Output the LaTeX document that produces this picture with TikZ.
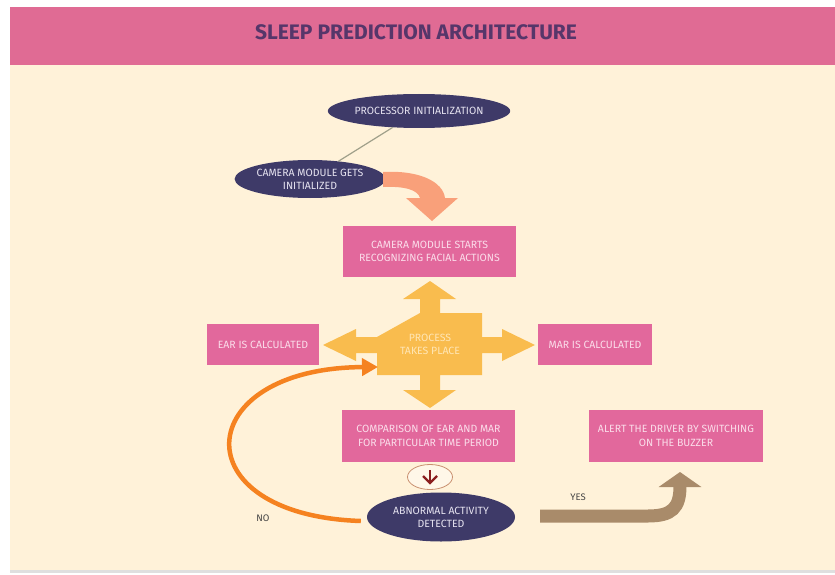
\documentclass[tikz,border=0pt]{standalone}
\usepackage{fontspec}
\setmainfont{Fira Sans}
\usetikzlibrary{shapes.geometric,arrows.meta,calc}
\definecolor{hdr}{HTML}{E06B94}
\definecolor{cream}{HTML}{FFF2D9}
\definecolor{boxpink}{HTML}{E2689C}
\definecolor{boxtext}{HTML}{FBDDEA}
\definecolor{navy}{HTML}{3E3A68}
\definecolor{elltext}{HTML}{E6E3F0}
\definecolor{procy}{HTML}{F9BC4E}
\definecolor{proctext}{HTML}{FFE6B5}
\definecolor{titlec}{HTML}{56366A}
\definecolor{salmon}{HTML}{F9A07A}
\definecolor{orangec}{HTML}{F58220}
\definecolor{brownc}{HTML}{A98B6A}
\definecolor{linec}{HTML}{A0A08A}
\definecolor{dred}{HTML}{8B1E1E}
\definecolor{smline}{HTML}{C99070}
\definecolor{labc}{HTML}{444444}
\tikzset{
  ell/.style={ellipse, fill=navy, text=elltext, inner sep=0pt, align=center, font=\fontsize{10.5}{13}\selectfont},
  box/.style={rectangle, fill=boxpink, text=boxtext, inner sep=0pt, align=center, font=\fontsize{10.5}{13.5}\selectfont},
  lab/.style={text=labc, font=\fontsize{9.5}{11}\selectfont}
}
\begin{document}
\begin{tikzpicture}[x=1pt,y=-1pt]
\useasboundingbox (0,0) rectangle (835,575);
\fill[white] (0,0) rectangle (835,575);
\fill[cream] (10,65) rectangle (835,570);
\fill[hdr] (10,7) rectangle (835,65);
\fill[gray!25] (10,570) rectangle (835,573);
\node[text=titlec, font=\fontsize{21}{24}\selectfont\bfseries] (title) at (416,32) {SLEEP PREDICTION ARCHITECTURE};

% nodes
\node[ell, minimum width=168, minimum height=34] (proc) at (419,111) {PROCESSOR INITIALIZATION};
\node[ell, minimum width=146, minimum height=38] (cam) at (310,179) {CAMERA MODULE GETS\\INITIALIZED};
\node[box, minimum width=173, minimum height=51] (start) at (429.5,251.5) {CAMERA MODULE STARTS\\RECOGNIZING FACIAL ACTIONS};
\node[box, minimum width=112, minimum height=41] (ear) at (263,344.5) {EAR IS CALCULATED};
\node[box, minimum width=114, minimum height=41] (mar) at (595,344.5) {MAR IS CALCULATED};
\node[box, minimum width=173, minimum height=52] (cmp) at (428.5,436) {COMPARISON OF EAR AND MAR\\FOR PARTICULAR TIME PERIOD};
\node[box, minimum width=174, minimum height=52] (alert) at (676,436) {ALERT THE DRIVER BY SWITCHING\\ON THE BUZZER};
\node[ell, minimum width=148, minimum height=49] (abn) at (441,517) {ABNORMAL ACTIVITY\\DETECTED};

% process cross
\fill[procy] (420,313) -- (420,299) -- (403,299) -- (430,281) -- (456,299) -- (440,299) -- (440,313)
  -- (482,313) -- (482,337) -- (502,337) -- (502,329) -- (535,345) -- (502,361) -- (502,353) -- (482,353)
  -- (482,375) -- (440,375) -- (440,390) -- (456,390) -- (430,408) -- (403,390) -- (420,390) -- (420,375)
  -- (377,375) -- (377,353) -- (356,353) -- (356,361) -- (323,345) -- (356,329) -- (356,337) -- (377,337) -- cycle;
\node[text=proctext, align=center, font=\fontsize{10.5}{13}\selectfont] (pr) at (430,344) {PROCESS\\TAKES PLACE};

% connector processor - camera
\draw[linec, line width=1.2pt] (proc) -- (cam);

% salmon curved block arrow
\fill[salmon] (383,172) .. controls (420,170) and (443,182) .. (445,198) -- (458,198) -- (432,221) -- (406,198) -- (420,198)
  .. controls (418,190) and (405,186) .. (383,187) -- cycle;

% small circle with down arrow
\node[ellipse, draw=smline, fill=cream!60!white, line width=0.8pt, minimum width=45, minimum height=25, inner sep=0pt] (sm) at (430,477) {};
\draw[dred, line width=2.4pt] ($(sm.center)+(0,-7)$) -- ($(sm.center)+(0,5)$);
\draw[dred, line width=2.4pt, line join=miter] ($(sm.center)+(-7,-1)$) -- ($(sm.center)+(0,6)$) -- ($(sm.center)+(7,-1)$);

% NO arc
\coordinate (nostart) at ($(abn.west)+(-6,4)$);
\coordinate (noend) at (378,367);
\draw[orangec, line width=4.5pt, -{Triangle[length=16pt,width=17pt]}] (nostart) .. controls (180,515) and (190,368) .. (noend);
\node[lab] (no) at (263,518) {NO};

% YES arrow
\coordinate (yesstart) at ($(abn.east)+(25,-1)$);
\coordinate (yesend) at (680,472);
\draw[brownc, line width=13pt, -{Triangle[length=15pt,width=42pt]}] (yesstart) -- (648,516) .. controls (672,516) and (680,508) .. (yesend);
\node[lab] (yes) at (578,497) {YES};
\end{tikzpicture}
\end{document}
